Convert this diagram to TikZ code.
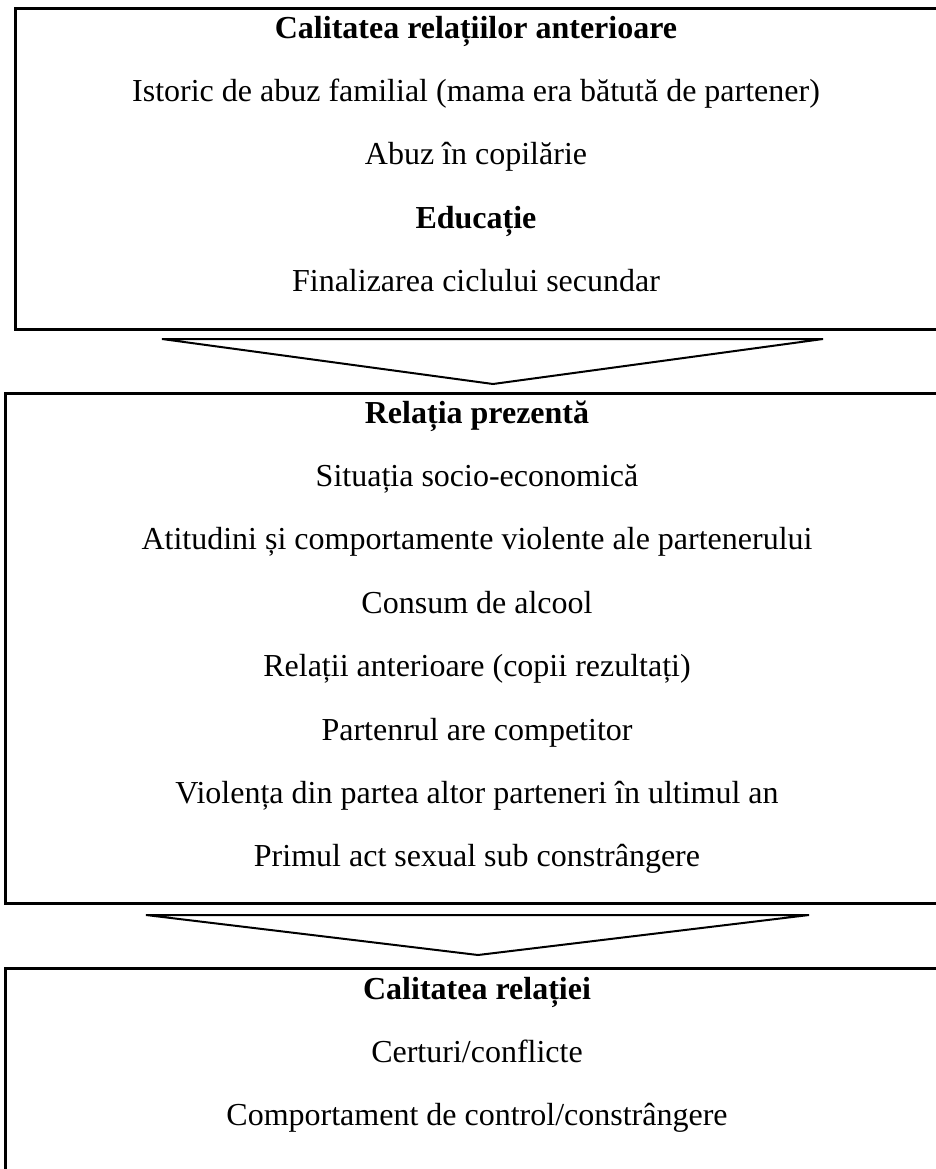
\documentclass[tikz,border=0pt]{standalone}
\usepackage{fontspec}
\setmainfont{Liberation Serif}
\begin{document}
\begin{tikzpicture}[x=1pt,y=-1pt,
  box/.style={draw,line width=3pt,inner sep=0pt,outer sep=0pt,anchor=north west},
  tri/.style={draw,line width=2pt,line join=miter},
  txt/.style={font=\fontsize{32}{38}\selectfont,inner sep=0pt,anchor=base},
  hd/.style={font=\fontsize{32}{38}\selectfont\bfseries,inner sep=0pt,anchor=base}]
\useasboundingbox (0,0) rectangle (936,1169);
\clip (0,0) rectangle (936,1169);
% boxes
\node[box,minimum width=960pt,minimum height=320pt] (b1) at (15.5,9) {};
\node[box,minimum width=970pt,minimum height=510pt] (b2) at (5,393.5) {};
\node[box,minimum width=970pt,minimum height=320pt] (b3) at (5,968) {};
% box 1 texts
\node[hd]  (a1) at (476,39)  {Calitatea relațiilor anterioare};
\node[txt] (a2) at (476,102) {Istoric de abuz familial (mama era bătută de partener)};
\node[txt] (a3) at (476,165) {Abuz în copilărie};
\node[hd]  (a4) at (476,228) {Educație};
\node[txt] (a5) at (476,291) {Finalizarea ciclului secundar};
% box 2 texts
\node[hd]  (c1) at (477,423)   {Relația prezentă};
\node[txt] (c2) at (477,486.4) {Situația socio-economică};
\node[txt] (c3) at (477,549.8) {Atitudini și comportamente violente ale partenerului};
\node[txt] (c4) at (477,613.2) {Consum de alcool};
\node[txt] (c5) at (477,676.6) {Relații anterioare (copii rezultați)};
\node[txt] (c6) at (477,740)   {Partenrul are competitor};
\node[txt] (c7) at (477,803.4) {Violența din partea altor parteneri în ultimul an};
\node[txt] (c8) at (477,866.8) {Primul act sexual sub constrângere};
% box 3 texts
\node[hd]  (d1) at (477,999)  {Calitatea relației};
\node[txt] (d2) at (477,1062) {Certuri/conflicte};
\node[txt] (d3) at (477,1125) {Comportament de control/constrângere};
% arrows
\coordinate (p1) at (162,339);
\coordinate (p2) at (823,339);
\coordinate (p3) at (493,384);
\draw[tri] (p1) -- (p2) -- (p3) -- cycle;
\coordinate (q1) at (146,915);
\coordinate (q2) at (809,915);
\coordinate (q3) at (478,955);
\draw[tri] (q1) -- (q2) -- (q3) -- cycle;
\end{tikzpicture}
\end{document}
